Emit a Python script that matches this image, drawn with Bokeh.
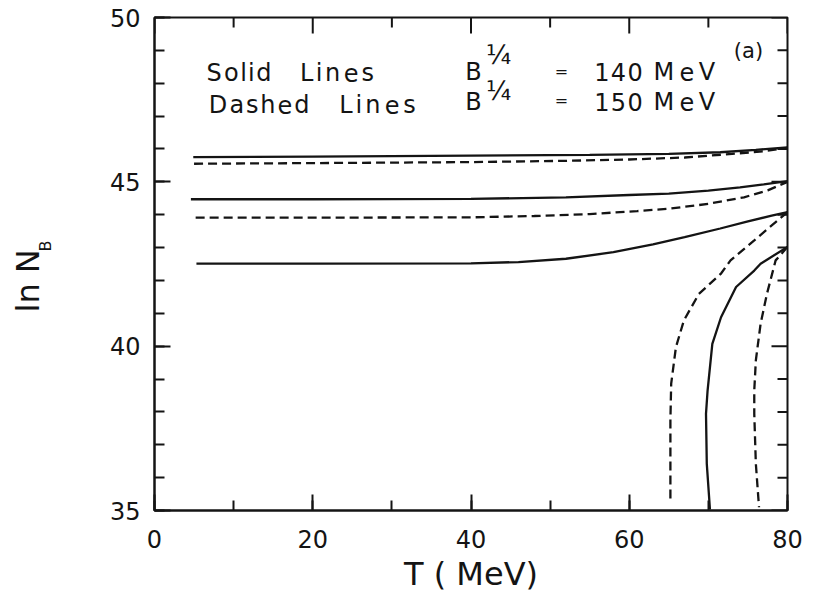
import math
from bokeh.plotting import figure
from bokeh.layouts import row
from bokeh.models import SingleIntervalTicker, ColumnDataSource
from bokeh.core.properties import value
from bokeh.embed import file_html
from bokeh.resources import INLINE

# ---------------- data ----------------
# B^1/4 = 140 MeV (solid lines)
solid_top_T = [4.9, 20, 40, 55, 65, 71.5, 76, 80]
solid_top_lnN = [45.75, 45.77, 45.80, 45.82, 45.85, 45.90, 45.97, 46.05]
solid_mid_T = [4.6, 20, 40, 52, 60, 65, 70, 74, 77, 80]
solid_mid_lnN = [44.47, 44.47, 44.48, 44.53, 44.60, 44.64, 44.73, 44.83, 44.92, 45.02]
solid_low_T = [5.3, 20, 40, 46, 52, 58, 63, 67, 71.5, 75, 78, 80]
solid_low_lnN = [42.51, 42.51, 42.52, 42.56, 42.66, 42.86, 43.10, 43.32, 43.58, 43.80, 43.97, 44.08]
solid_branch_T = [80, 76.6, 75.8, 73.5, 71.6, 70.5, 69.9, 69.7, 69.8, 70.2]
solid_branch_lnN = [43.02, 42.51, 42.30, 41.80, 40.88, 40.07, 38.65, 37.94, 36.42, 35.03]

# B^1/4 = 150 MeV (dashed lines)
dashed_top_T = [5.0, 20, 40, 52, 60, 67, 73, 77, 80]
dashed_top_lnN = [45.55, 45.57, 45.60, 45.64, 45.68, 45.74, 45.85, 45.93, 46.03]
dashed_mid_T = [5.2, 20, 40, 48, 55, 61, 65, 70, 74.5, 77.5, 80]
dashed_mid_lnN = [43.91, 43.91, 43.92, 43.96, 44.02, 44.11, 44.18, 44.33, 44.53, 44.74, 45.00]
dashed_left_T = [80, 75.8, 72.8, 71.6, 68.8, 66.9, 65.9, 65.3, 65.2, 65.2, 65.2]
dashed_left_lnN = [44.08, 43.22, 42.61, 42.21, 41.59, 40.78, 39.97, 38.86, 37.74, 36.52, 35.25]
dashed_right_T = [80, 78.5, 77.4, 76.6, 76.0, 75.8, 75.8, 76.0, 76.4]
dashed_right_lnN = [43.02, 42.61, 41.59, 40.68, 39.57, 38.65, 37.94, 36.42, 35.10]

# ticks and texts
x_major_ticks = [0, 20, 40, 60, 80]
x_minor_ticks = [10, 30, 50, 70]
y_major_ticks = [35, 40, 45, 50]
y_minor_ticks = [36, 37, 38, 39, 41, 42, 43, 44, 46, 47, 48, 49]
x_label = "T ( MeV)"
y_label_main = "ln N"
y_label_sub = "B"
legend_rows = [("Solid", "Lines", "140", "MeV"), ("Dashed", "Lines", "150", "MeV")]
panel_tag = "(a)"

# ---------------- layout ----------------
W, H = 815, 601
LW = 70                              # strip holding the y title
FL, FR, FT, FB = 154, 787, 17, 510   # frame edges in page pixels
X0, X1, Y0, Y1 = 0, 80, 35, 50
XPP = (X1 - X0) / (FR - FL)          # data units per pixel
YPP = (Y1 - Y0) / (FB - FT)

def dx(px):
    return X0 + (px - FL) * XPP

def dy(py):
    return Y1 - (py - FT) * YPP

INK = "#141414"
FONT = "DejaVu Sans"

p = figure(width=W - LW, height=H, x_range=(X0, X1), y_range=(Y0, Y1),
           output_backend="svg", toolbar_location=None,
           min_border_left=FL - LW, min_border_right=W - FR,
           min_border_top=FT, min_border_bottom=H - FB)
p.xgrid.visible = False
p.ygrid.visible = False
p.outline_line_color = INK
p.outline_line_width = 2
p.background_fill_color = "white"
p.border_fill_color = "white"

MAJ, MIN = 16, 10
for ax, tk in ((p.xaxis[0], SingleIntervalTicker(interval=20, num_minor_ticks=2)),
               (p.yaxis[0], SingleIntervalTicker(interval=5, num_minor_ticks=5))):
    ax.ticker = tk
    ax.axis_line_color = INK
    ax.axis_line_width = 2
    ax.major_tick_line_color = INK
    ax.minor_tick_line_color = INK
    ax.major_tick_line_width = 2
    ax.minor_tick_line_width = 2
    ax.major_tick_in = MAJ
    ax.major_tick_out = 0
    ax.minor_tick_in = MIN
    ax.minor_tick_out = 0
    ax.major_label_text_font = FONT
    ax.major_label_text_font_size = "24px"
    ax.major_label_text_color = INK
p.xaxis.major_label_standoff = 19
p.yaxis.major_label_standoff = 14
p.xaxis.axis_label = x_label
p.xaxis.axis_label_text_font = FONT
p.xaxis.axis_label_text_font_size = "32px"
p.xaxis.axis_label_text_font_style = "normal"
p.xaxis.axis_label_text_color = INK
p.xaxis.axis_label_standoff = 4

# inward ticks on the top and right edges
tick_xs, tick_ys = [], []
for ticks, ln in ((x_major_ticks, MAJ), (x_minor_ticks, MIN)):
    for t in ticks:
        tick_xs.append([t, t])
        tick_ys.append([Y1, Y1 - ln * YPP])
for ticks, ln in ((y_major_ticks, MAJ), (y_minor_ticks, MIN)):
    for t in ticks:
        tick_xs.append([X1, X1 - ln * XPP])
        tick_ys.append([t, t])
p.multi_line(xs=tick_xs, ys=tick_ys, line_color=INK, line_width=2)

# ---------------- curves ----------------
solid = [(solid_top_T, solid_top_lnN), (solid_mid_T, solid_mid_lnN),
         (solid_low_T, solid_low_lnN), (solid_branch_T, solid_branch_lnN)]
dashed = [(dashed_top_T, dashed_top_lnN), (dashed_mid_T, dashed_mid_lnN),
          (dashed_left_T, dashed_left_lnN), (dashed_right_T, dashed_right_lnN)]
for t, v in solid:
    p.line(t, v, line_color=INK, line_width=2.3)
for t, v in dashed:
    p.line(t, v, line_color=INK, line_width=2.3, line_dash="9 5")

# ---------------- legend text (spaced letters) ----------------
ADV = {"S": .635, "o": .612, "l": .278, "i": .278, "d": .635, "L": .557, "n": .634,
       "e": .615, "s": .521, "D": .770, "a": .613, "h": .634, "M": .863, "V": .684,
       "1": .636, "4": .636, "0": .636, "5": .636}

def spread(word, x0, x1):
    ws = [ADV.get(c, .6) for c in word]
    k = (x1 - x0) / sum(ws)
    out, acc = [], x0
    for w in ws:
        out.append(acc + w * k / 2)
        acc += w * k
    return out

chars, cx, cy = [], [], []
word_spans = [[(205, 272), (298, 375), (593, 643), (650, 717)],
              [(207, 310), (337, 417), (593, 643), (650, 717)]]
word_mid = [[72, 72, 71, 71], [104, 104, 101, 101]]
for words, spans, mids in zip(legend_rows, word_spans, word_mid):
    for word, (a, b), m in zip(words, spans, mids):
        for c, x in zip(word, spread(word, a, b)):
            chars.append(c)
            cx.append(dx(x))
            cy.append(dy(m))
src = ColumnDataSource(dict(x=cx, y=cy, t=chars))
p.text(x="x", y="y", text="t", source=src, text_font=value(FONT),
       text_font_size="24px", text_align="center", text_baseline="middle",
       text_color=INK)

for b_mid, sup_mid, eq_mid in [(71.5, 54.5, 71), (101, 90, 100)]:
    p.text(x=[dx(473)], y=[dy(b_mid)], text=["B"], text_font=value(FONT),
           text_font_size="24px", text_align="center", text_baseline="middle",
           text_color=INK)
    p.text(x=[dx(498)], y=[dy(sup_mid)], text=["\u00bc"], text_font=value(FONT),
           text_font_size="26px", text_align="center", text_baseline="middle",
           text_color=INK)
    p.text(x=[dx(561)], y=[dy(eq_mid)], text=["="], text_font=value(FONT),
           text_font_size="16px", text_align="center", text_baseline="middle",
           text_color=INK)

p.text(x=[dx(748)], y=[dy(50)], text=[panel_tag], text_font=value(FONT),
       text_font_size="21px", text_align="center", text_baseline="middle",
       text_color=INK)

# ---------------- y axis title in a narrow strip ----------------
# in a row the frames are aligned, so this strip's frame spans page rows FT..FB;
# its y range is chosen so that y = H - page_row
lab = figure(width=LW, height=H, x_range=(0, LW), y_range=(H - FB, H - FT),
             output_backend="svg", toolbar_location=None, min_border=0,
             min_border_top=FT, min_border_bottom=H - FB,
             x_axis_type=None, y_axis_type=None)
lab.outline_line_color = None
lab.xgrid.visible = False
lab.ygrid.visible = False
lab.background_fill_color = "white"
lab.border_fill_color = "white"
lab.text(x=[27], y=[H - 312], text=[y_label_main], angle=math.pi / 2,
         text_font=value(FONT), text_font_size="32px", text_color=INK,
         text_align="left", text_baseline="middle")
lab.text(x=[45], y=[H - 251], text=[y_label_sub], angle=math.pi / 2,
         text_font=value(FONT), text_font_size="16px", text_color=INK,
         text_align="left", text_baseline="middle")

layout = row(lab, p, spacing=0)
open("out.html", "w").write(file_html(layout, INLINE))
